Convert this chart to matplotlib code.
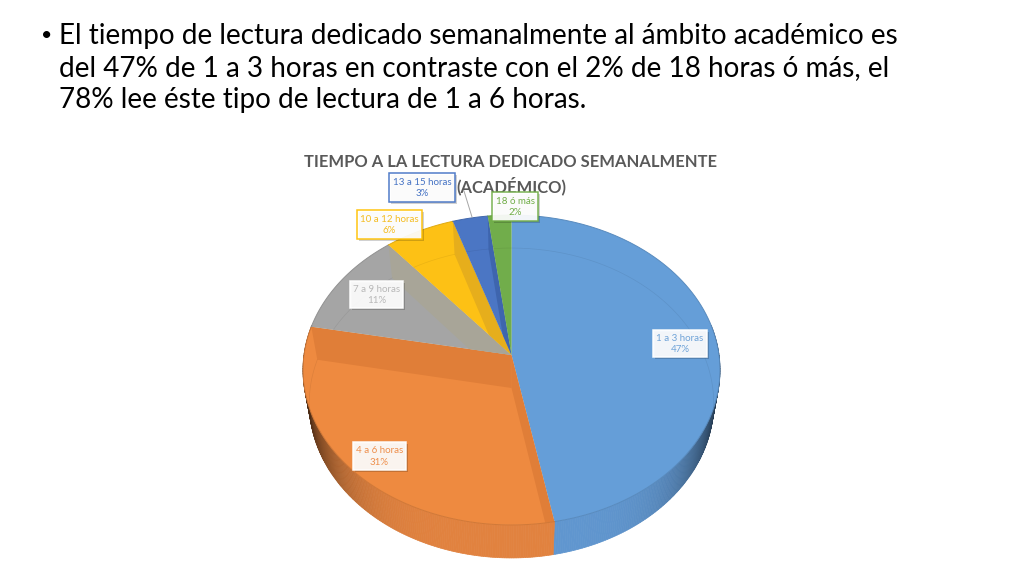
import numpy as np
import matplotlib
matplotlib.use('Agg')
import matplotlib.pyplot as plt
from matplotlib.colors import to_rgb
from matplotlib.patches import Polygon, Rectangle

plt.rcParams['font.family'] = ['Lato', 'DejaVu Sans']

categories = ['1 a 3 horas', '4 a 6 horas', '7 a 9 horas', '10 a 12 horas', '13 a 15 horas', '18 ó más']
values = [47, 31, 11, 6, 3, 2]

bullet_lines = ['El tiempo de lectura dedicado semanalmente al ámbito académico es',
                'del 47% de 1 a 3 horas en contraste con el 2% de 18 horas ó más, el',
                '78% lee éste tipo de lectura de 1 a 6 horas.']
chart_title = ['TIEMPO A LA LECTURA DEDICADO SEMANALMENTE', '(ACADÉMICO)']

face_colors = ['#659ED8', '#EE8A40', '#A5A5A5', '#FDC115', '#4B76C4', '#71AD4B']
wall_colors = ['#5A93CC', '#E07E38', '#A8A598', '#E6AE1C', '#3E65AE', '#5F9A3F']
skirt_colors = ['#6096CF', '#E1823F', '#999999', '#EEB414', '#4068B0', '#659C42']
text_colors = ['#6FA3D8', '#EE8F4C', '#B8B8B8', '#F4BC20', '#4472C4', '#70AD47']
border_colors = ['#FFFFFF', '#FFFFFF', '#FFFFFF', '#FFC000', '#4472C4', '#70AD47']
# left, top, right, bottom of each label box in image pixels
label_boxes = [(653, 330, 707, 357), (353, 442, 406, 470), (350, 281, 403, 308),
               (357, 210, 422, 239), (389, 173, 455, 202), (492, 192, 538, 221)]

CX, TOP_Y, BOT_Y = 511.5, 355, 388
RX, RY, PERSP = 207.5, 153.5, 0.0968
BOT_SCALE = 0.97


def project(theta, level='top'):
    # perspective view of the pie plane, theta runs clockwise from 12 o'clock
    u, v = np.sin(theta), np.cos(theta)
    w = 1 + PERSP * v
    if level == 'top':
        return CX + RX * u / w, TOP_Y - RY * v / w
    return CX + BOT_SCALE * RX * u / w, BOT_Y - RY * v / w


def shaded(color, theta):
    k = 1 - 0.72 * np.abs(np.sin(theta))**5
    return tuple(c * k for c in to_rgb(color))


fig = plt.figure(figsize=(10.24, 5.76), dpi=100)
ax = fig.add_axes([0, 0, 1, 1])
ax.set_xlim(0, 1024)
ax.set_ylim(576, 0)
ax.axis('off')

edges = np.cumsum([0] + values) / sum(values) * 2 * np.pi

# outer skirt
for i in range(len(values)):
    ts = np.linspace(edges[i], edges[i + 1], max(int(values[i] * 6), 3) + 1)
    for t0, t1 in zip(ts[:-1], ts[1:]):
        if np.cos((t0 + t1) / 2) > 0.2:
            continue
        x0, y0 = project(t0)
        x1, y1 = project(t1)
        x2, y2 = project(t1, 'bot')
        x3, y3 = project(t0, 'bot')
        col = shaded(skirt_colors[i], (t0 + t1) / 2)
        ax.add_patch(Polygon([(x0, y0), (x1, y1), (x2, y2), (x3, y3)], closed=True,
                             facecolor=col, edgecolor=col, lw=0.5, zorder=2))

# top faces, with the inner walls showing through
for i in range(len(values)):
    ts = np.linspace(edges[i], edges[i + 1], max(int(values[i] * 4), 8))
    xs, ys = project(ts)
    pts = [(CX, TOP_Y)] + list(zip(xs, ys))
    face = Polygon(pts, closed=True, facecolor=face_colors[i], edgecolor='none', zorder=3)
    ax.add_patch(face)

    for t in (edges[i], edges[i + 1]):
        xt, yt = project(t)
        xb, yb = project(t, 'bot')
        wall = Polygon([(CX, TOP_Y), (xt, yt), (xb, yb), (CX, BOT_Y)], closed=True,
                       facecolor=wall_colors[i], edgecolor='none', zorder=4)
        ax.add_patch(wall)
        wall.set_clip_path(face)

    xb, yb = project(ts, 'bot')
    inner, = ax.plot(xb, yb, color='#000000', lw=0.5, alpha=0.07, zorder=5)
    inner.set_clip_path(face)
    rim_col = tuple(c * 0.88 for c in to_rgb(face_colors[i]))
    ax.plot(xs, ys, color=rim_col, lw=0.7, zorder=6)

# title sits under the data labels
ax.text(511, 162, chart_title[0], ha='center', va='center', fontsize=11.9,
        fontweight='bold', color='#595959', zorder=7)
ax.text(511, 186, chart_title[1], ha='center', va='center', fontsize=11.9,
        fontweight='bold', color='#595959', zorder=7)

# leader line of the 13 a 15 label
ax.plot([464, 472], [191, 217], color='#A6A6A6', lw=0.7, zorder=7)

for name, val, box, tc, bc in zip(categories, values, label_boxes, text_colors, border_colors):
    l, t, r, b = box
    ax.add_patch(Rectangle((l + 1.5, t + 1.5), r - l, b - t, facecolor='#000000',
                           alpha=0.18, edgecolor='none', zorder=8))
    ax.add_patch(Rectangle((l, t), r - l, b - t, facecolor='#FFFFFF', alpha=0.93,
                           edgecolor=bc, lw=1.1, zorder=9))
    ax.text((l + r) / 2, (t + b) / 2 + 0.5, f'{name}\n{val}%', ha='center', va='center',
            fontsize=7.0, color=tc, linespacing=1.3, zorder=10)

# slide text
ax.text(41, 35, '•', ha='left', va='center', fontsize=14, color='#000000')
for y, line in zip((36, 68, 100), bullet_lines):
    ax.text(59, y, line, ha='left', va='center', fontsize=20.05, color='#000000')

fig.savefig('out.png', dpi=100)
